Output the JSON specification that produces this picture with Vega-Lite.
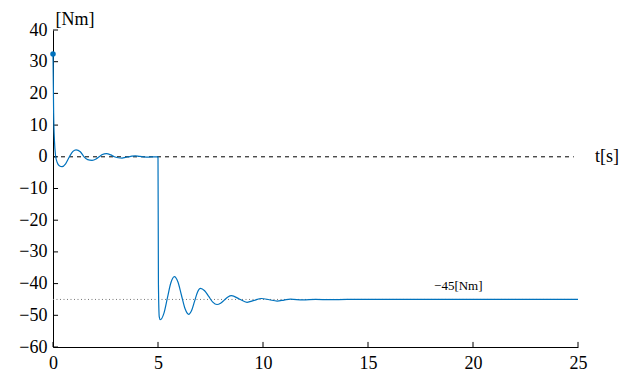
{
  "$schema": "https://vega.github.io/schema/vega-lite/v6.json",
  "width": 525,
  "height": 317,
  "autosize": "none",
  "padding": {"left": 53, "top": 30, "right": 43, "bottom": 28},
  "background": "white",
  "config": {
    "view": {"stroke": null},
    "font": "Liberation Serif",
    "axis": {
      "grid": false,
      "domainColor": "black",
      "domainWidth": 1,
      "ticks": false,
      "labelFont": "Liberation Serif",
      "labelFontSize": 18,
      "labelColor": "black",
      "labelFlush": false,
      "labelOverlap": false,
      "titleFont": "Liberation Serif",
      "titleFontSize": 18,
      "titleFontWeight": "normal",
      "titleColor": "black"
    }
  },
  "datasets": {
    "signal": [
      {"t": 0, "v": 32.4},
      {"t": 0.03, "v": 14},
      {"t": 0.07, "v": 5},
      {"t": 0.12, "v": 0.5},
      {"t": 0.2, "v": -1.8},
      {"t": 0.3, "v": -2.8},
      {"t": 0.43, "v": -3.1},
      {"t": 0.6, "v": -2.2},
      {"t": 0.78, "v": 0},
      {"t": 0.95, "v": 1.7},
      {"t": 1.1, "v": 2.2},
      {"t": 1.3, "v": 1.6},
      {"t": 1.48, "v": 0},
      {"t": 1.65, "v": -0.9},
      {"t": 1.86, "v": -1.1},
      {"t": 2.05, "v": -0.7},
      {"t": 2.2, "v": 0},
      {"t": 2.35, "v": 0.7},
      {"t": 2.54, "v": 1.0},
      {"t": 2.75, "v": 0.6},
      {"t": 2.92, "v": 0},
      {"t": 3.1, "v": -0.3},
      {"t": 3.29, "v": -0.4},
      {"t": 3.45, "v": -0.2},
      {"t": 3.6, "v": 0},
      {"t": 3.75, "v": 0.2},
      {"t": 3.92, "v": 0.3},
      {"t": 4.1, "v": 0.15},
      {"t": 4.3, "v": 0},
      {"t": 4.55, "v": -0.1},
      {"t": 4.8, "v": 0},
      {"t": 5.0, "v": 0},
      {"t": 5.02, "v": -40},
      {"t": 5.06, "v": -50.5},
      {"t": 5.11, "v": -51.4},
      {"t": 5.28, "v": -49.4},
      {"t": 5.445, "v": -44.6},
      {"t": 5.61, "v": -39.8},
      {"t": 5.78, "v": -37.8},
      {"t": 5.95, "v": -39.5},
      {"t": 6.12, "v": -43.75},
      {"t": 6.29, "v": -47.95},
      {"t": 6.46, "v": -49.7},
      {"t": 6.6, "v": -48.5},
      {"t": 6.74, "v": -45.6},
      {"t": 6.88, "v": -42.7},
      {"t": 7.02, "v": -41.5},
      {"t": 7.22, "v": -42.25},
      {"t": 7.415, "v": -44.05},
      {"t": 7.61, "v": -45.85},
      {"t": 7.81, "v": -46.6},
      {"t": 7.98, "v": -46.2},
      {"t": 8.155, "v": -45.2},
      {"t": 8.33, "v": -44.2},
      {"t": 8.5, "v": -43.8},
      {"t": 8.87, "v": -44.85},
      {"t": 9.24, "v": -45.9},
      {"t": 9.58, "v": -45.3},
      {"t": 9.92, "v": -44.7},
      {"t": 10.3, "v": -45.1},
      {"t": 10.67, "v": -45.5},
      {"t": 11.0, "v": -45.2},
      {"t": 11.3, "v": -44.9},
      {"t": 11.9, "v": -45.15},
      {"t": 12.5, "v": -45.0},
      {"t": 13.2, "v": -45.05},
      {"t": 14.0, "v": -45.0},
      {"t": 25.0, "v": -45.0}
    ],
    "start": [{"t": 0, "v": 32.4}],
    "zero": [{"x1": 0, "x2": 24.8, "y": 0}],
    "ref": [{"x1": 0, "x2": 25, "y": -45}],
    "yticks": [
      {"y": -60}, {"y": -50}, {"y": -40}, {"y": -30}, {"y": -20}, {"y": -10},
      {"y": 0}, {"y": 10}, {"y": 20}, {"y": 30}, {"y": 40}
    ],
    "xticks": [{"x": 0}, {"x": 5}, {"x": 10}, {"x": 15}, {"x": 20}, {"x": 25}],
    "xlab": [{"t": 25, "v": 0, "label": "t[s]"}],
    "reflab": [{"t": 19.3, "v": -45, "label": "−45[Nm]"}]
  },
  "encoding": {
    "x": {"type": "quantitative", "scale": {"domain": [0, 25], "nice": false},
          "axis": {"values": [0, 5, 10, 15, 20, 25], "title": null, "labelPadding": 7}},
    "y": {"type": "quantitative", "scale": {"domain": [-60, 40], "nice": false},
          "axis": {"values": [-60, -50, -40, -30, -20, -10, 0, 10, 20, 30, 40], "title": "[Nm]",
                   "labelPadding": 6,
                   "titleAngle": 0, "titleAlign": "left", "titleBaseline": "alphabetic",
                   "titleX": 2, "titleY": -6}}
  },
  "layer": [
    {
      "data": {"name": "yticks"},
      "mark": {"type": "rule", "color": "black", "strokeWidth": 1},
      "encoding": {
        "x": {"datum": 0},
        "x2": {"datum": 0.24},
        "y": {"field": "y"}
      }
    },
    {
      "data": {"name": "xticks"},
      "mark": {"type": "rule", "color": "black", "strokeWidth": 1},
      "encoding": {
        "x": {"field": "x"},
        "y": {"datum": -60},
        "y2": {"datum": -58.4}
      }
    },
    {
      "data": {"name": "zero"},
      "mark": {"type": "rule", "color": "black", "strokeWidth": 1, "strokeDash": [4, 4]},
      "encoding": {
        "x": {"field": "x1"},
        "x2": {"field": "x2"},
        "y": {"field": "y"}
      }
    },
    {
      "data": {"name": "ref"},
      "mark": {"type": "rule", "color": "#777777", "strokeWidth": 1, "strokeDash": [1, 2.5]},
      "encoding": {
        "x": {"field": "x1"},
        "x2": {"field": "x2"},
        "y": {"field": "y"}
      }
    },
    {
      "data": {"name": "signal"},
      "mark": {"type": "line", "color": "#0072BD", "strokeWidth": 1.2, "interpolate": "monotone"},
      "encoding": {
        "x": {"field": "t"},
        "y": {"field": "v"}
      }
    },
    {
      "data": {"name": "start"},
      "mark": {"type": "point", "filled": true, "color": "#0072BD", "size": 30, "opacity": 1},
      "encoding": {
        "x": {"field": "t"},
        "y": {"field": "v"}
      }
    },
    {
      "data": {"name": "xlab"},
      "mark": {"type": "text", "align": "left", "baseline": "middle", "dx": 17, "fontSize": 18, "font": "Liberation Serif", "color": "black"},
      "encoding": {
        "x": {"field": "t"},
        "y": {"field": "v"},
        "text": {"field": "label"}
      }
    },
    {
      "data": {"name": "reflab"},
      "mark": {"type": "text", "align": "center", "baseline": "alphabetic", "dy": -9, "fontSize": 13, "font": "Liberation Serif", "color": "black"},
      "encoding": {
        "x": {"field": "t"},
        "y": {"field": "v"},
        "text": {"field": "label"}
      }
    }
  ]
}
